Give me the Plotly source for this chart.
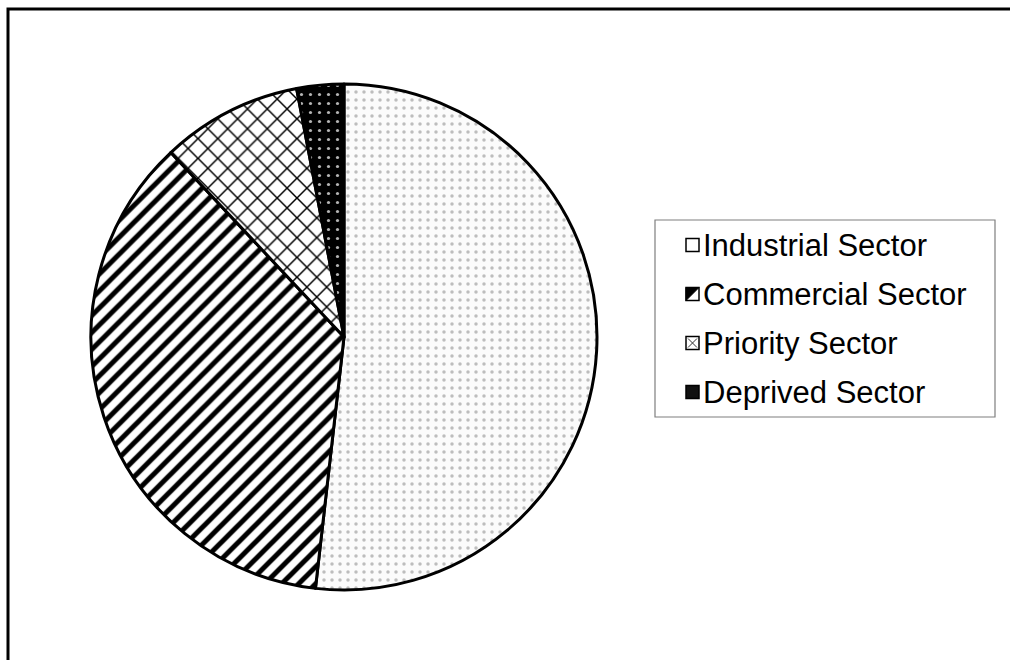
import plotly.graph_objects as go

# Sector shares (percent), clockwise from 12 o'clock
sectors = ["Industrial Sector", "Commercial Sector", "Priority Sector", "Deprived Sector"]
shares = [51.8, 36.2, 9.0, 3.0]

# Fill patterns per sector
bg_colors = ["#fbfbfb", "#ffffff", "#ffffff", "#000000"]
fg_colors = ["#bdbdbd", "#000000", "#000000", "#b4b4b4"]
pattern_shapes = [".", "/", "x", "."]
pattern_sizes = [8, 12, 14, 9]
pattern_solid = [0.15, 0.42, 0.2, 0.1]

W, H = 1010, 660


def px(x):
    return x / W


def py(y):
    return 1 - y / H


fig = go.Figure()
fig.add_trace(go.Pie(
    labels=sectors,
    values=shares,
    sort=False,
    direction="clockwise",
    rotation=0,
    textinfo="none",
    hoverinfo="label+percent",
    showlegend=False,
    domain=dict(x=[px(91), px(597)], y=[py(590), py(84)]),
    marker=dict(
        colors=bg_colors,
        line=dict(color="#000000", width=3),
        pattern=dict(
            shape=pattern_shapes,
            fgcolor=fg_colors,
            bgcolor=bg_colors,
            fgopacity=1,
            size=pattern_sizes,
            solidity=pattern_solid,
            fillmode="overlay",
        ),
    ),
))

shapes = []
annotations = []

# Outer chart frame
shapes.append(dict(type="rect", xref="paper", yref="paper",
                   x0=px(8), x1=1.05, y0=-0.05, y1=py(9),
                   line=dict(color="#000000", width=3), fillcolor="rgba(0,0,0,0)"))

# Legend frame
shapes.append(dict(type="rect", xref="paper", yref="paper",
                   x0=px(655), x1=px(995), y0=py(417), y1=py(220),
                   line=dict(color="#7f7f7f", width=1.2), fillcolor="#ffffff"))

row_y = [245, 294, 343, 392]
ix0, ix1 = 686, 699
for i, (name, yc) in enumerate(zip(sectors, row_y)):
    y0, y1 = yc - 6.5, yc + 6.5
    fill = "#ffffff" if i < 3 else "#111111"
    shapes.append(dict(type="rect", xref="paper", yref="paper",
                       x0=px(ix0), x1=px(ix1), y0=py(y1), y1=py(y0),
                       line=dict(color="#000000", width=1.5), fillcolor=fill))
    if i == 1:
        shapes.append(dict(type="path", xref="paper", yref="paper",
                           path=f"M {px(ix0)},{py(y1)} L {px(ix1)},{py(y0)} L {px(ix0)},{py(y0)} Z",
                           line=dict(color="#000000", width=1), fillcolor="#000000"))
    if i == 2:
        shapes.append(dict(type="line", xref="paper", yref="paper",
                           x0=px(ix0 + 2), x1=px(ix1 - 2), y0=py(y0 + 2), y1=py(y1 - 2),
                           line=dict(color="#333333", width=1)))
        shapes.append(dict(type="line", xref="paper", yref="paper",
                           x0=px(ix0 + 2), x1=px(ix1 - 2), y0=py(y1 - 2), y1=py(y0 + 2),
                           line=dict(color="#333333", width=1)))
    annotations.append(dict(text=name, xref="paper", yref="paper",
                            x=px(701), y=py(yc), xanchor="left", yanchor="middle",
                            showarrow=False,
                            font=dict(family="Liberation Sans, Arial", size=31, color="#000000")))

fig.update_layout(
    width=W, height=H,
    margin=dict(l=0, r=0, t=0, b=0),
    paper_bgcolor="#ffffff",
    plot_bgcolor="#ffffff",
    shapes=shapes,
    annotations=annotations,
)

fig.write_html("out.html")
